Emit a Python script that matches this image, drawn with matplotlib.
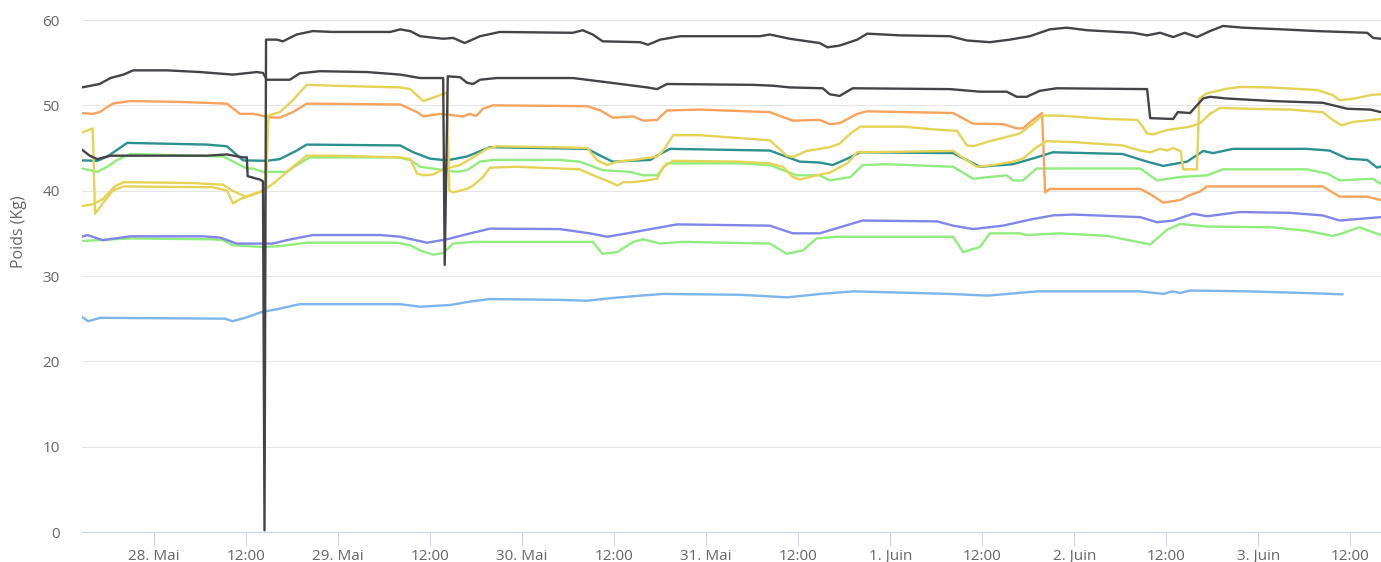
import matplotlib
matplotlib.use("Agg")
import matplotlib.pyplot as plt

plt.rcParams['font.family'] = ['Open Sans', 'DejaVu Sans']

# temps en heures depuis le 27 mai 00:00, poids en kg
bleu_h = [14.6,15.4,17.0,33.3,34.2,35.9,38.1,40.0,43.0,56.1,58.7,62.6,65.2,67.8,77.0,80.5,83.5,87.4,90.4,100.4,
          106.6,110.9,115.2,127.8,132.7,139.2,152.6,155.6,156.8,157.8,159.1,166.6,174.4,179.0]
bleu_kg = [25.2,24.7,25.1,25.0,24.7,25.1,25.8,26.1,26.7,26.7,26.4,26.6,27.0,27.3,27.2,27.1,27.4,27.7,27.9,27.8,
           27.5,27.9,28.2,27.9,27.7,28.2,28.2,27.9,28.2,28.0,28.3,28.2,28.0,27.85]

violet_h = [14.6,15.3,17.3,20.9,30.4,32.6,34.8,39.5,41.3,44.7,53.5,56.1,59.6,62.2,64.8,67.8,76.9,80.8,83.1,85.7,
            89.1,92.2,104.3,107.3,110.8,113.4,116.4,126.1,128.2,130.8,134.7,138.2,141.2,143.8,152.6,154.8,156.9,
            159.5,161.3,165.6,172.1,176.4,178.6,184.0]
violet_kg = [34.6,34.8,34.2,34.65,34.65,34.5,33.8,33.8,34.2,34.8,34.8,34.6,33.9,34.3,34.9,35.55,35.5,35.0,34.6,35.0,
             35.55,36.05,35.9,35.0,35.0,35.7,36.5,36.4,35.9,35.5,35.9,36.6,37.1,37.2,36.9,36.3,36.5,
             37.3,37.0,37.5,37.4,37.1,36.5,36.9]

vert_bas_h = [14.6,18.6,20.9,31.7,33.0,34.3,38.2,40.4,43.9,55.7,57.4,58.7,60.4,61.7,63.0,65.6,81.2,82.5,84.4,86.5,
              87.8,90.0,93.0,104.3,106.5,108.6,110.4,113.1,128.2,129.5,131.7,133.0,136.9,137.8,142.1,148.3,153.9,
              156.1,157.8,161.3,169.9,174.3,177.7,178.6,181.2,184.0]
vert_bas_kg = [34.1,34.3,34.4,34.3,34.2,33.6,33.4,33.5,33.9,33.9,33.6,33.0,32.5,32.7,33.8,34.0,34.0,32.6,32.8,34.0,
               34.3,33.8,34.0,33.8,32.6,33.0,34.4,34.6,34.6,32.8,33.4,35.0,35.0,34.8,35.0,34.7,33.7,
               35.4,36.1,35.8,35.7,35.3,34.7,34.9,35.7,34.8]

vert_haut_h = [14.6,16.6,17.9,19.2,20.9,33.0,33.9,36.1,36.9,38.2,41.3,42.6,44.3,55.7,57.4,58.7,63.5,64.8,66.5,68.2,
               76.9,79.5,82.5,86.1,87.8,89.6,90.9,100.4,104.3,107.8,110.8,112.1,114.8,116.4,119.6,128.2,130.8,
               135.2,136.0,137.3,139.1,152.6,154.8,157.8,161.3,163.4,174.3,177.0,178.6,182.9,184.0]
vert_haut_kg = [42.6,42.2,42.8,43.6,44.3,44.0,43.6,42.6,42.6,42.2,42.2,43.0,43.9,43.9,43.6,42.8,42.2,42.4,43.4,43.6,
                43.6,43.4,42.4,42.2,41.8,41.8,43.2,43.2,43.0,41.8,41.8,41.2,41.6,43.0,43.1,42.8,41.4,
                41.8,41.2,41.2,42.6,42.6,41.2,41.6,41.8,42.5,42.5,42.0,41.2,41.4,40.8]

sarcelle_h = [14.6,16.6,17.9,20.5,30.9,33.5,35.6,38.7,40.4,42.6,43.9,56.1,57.8,60.0,62.2,64.8,67.8,80.5,82.2,83.8,
              88.7,90.0,91.3,104.3,108.2,110.8,112.5,114.4,116.1,128.2,131.7,136.0,139.1,141.2,150.3,153.5,155.6,
              158.7,160.8,162.1,164.7,174.3,177.3,179.6,182.2,183.5,184.0]
sarcelle_kg = [43.55,43.5,44.0,45.6,45.4,45.2,43.55,43.5,43.7,44.7,45.4,45.3,44.5,43.75,43.55,44.0,45.1,44.9,44.1,43.4,
               43.6,44.3,44.9,44.7,43.4,43.3,43.0,43.75,44.5,44.4,42.8,43.1,43.9,44.5,44.3,43.4,42.9,
               43.4,44.65,44.4,44.9,44.9,44.7,43.75,43.6,42.7,42.85]

orange_h = [14.6,16.0,16.9,18.6,20.9,27.4,33.5,35.2,36.9,39.1,40.4,42.1,43.9,56.1,58.3,59.1,61.3,64.3,65.2,66.0,
            66.9,68.2,80.5,82.2,83.8,86.5,87.8,89.6,90.9,95.2,104.3,107.3,110.8,112.1,113.4,115.7,117.0,128.2,
            130.8,134.7,136.5,137.3,138.2,139.8,140.2,140.8,152.6,153.9,155.6,157.8,159.1,160.4,161.3,176.4,
            178.6,182.2,184.0]
orange_kg = [49.1,49.0,49.2,50.2,50.5,50.4,50.2,49.0,49.0,48.6,48.55,49.2,50.2,50.1,49.2,48.7,49.0,48.7,49.0,48.75,
             49.6,50.0,49.9,49.4,48.55,48.7,48.2,48.3,49.4,49.5,49.2,48.2,48.3,47.8,47.9,49.0,49.3,49.1,
             47.85,47.8,47.3,47.3,48.0,49.1,39.8,40.2,40.2,39.6,38.6,38.9,39.5,39.9,40.5,40.5,
             39.3,39.3,38.9]

jaune1_h = [14.6,16.0,16.3,17.3,18.6,20.0,31.7,33.5,34.3,35.2,36.9,38.2,39.8,41.7,43.9,47.3,56.1,57.4,58.3,59.1,
            60.4,61.7,63.9,65.6,67.4,68.7,75.6,80.5,81.8,83.1,84.4,86.5,89.6,90.4,91.7,95.2,104.3,106.5,107.3,
            109.1,112.1,113.4,114.8,116.1,121.7,126.1,128.7,130.0,130.8,132.6,135.2,136.9,138.6,139.8,142.1,
            148.3,152.2,152.8,153.5,154.3,156.1,159.1,160.4,161.7,163.0,166.5,172.1,176.4,177.7,178.9,180.3,184.0]
jaune1_kg = [46.8,47.3,37.3,38.5,40.0,40.5,40.4,40.0,38.5,39.0,39.5,40.0,41.0,42.5,44.1,44.1,43.9,43.7,42.0,41.8,
             41.9,42.5,43.0,43.9,44.9,45.2,45.1,45.0,43.55,43.0,43.4,43.6,44.0,44.7,46.5,46.5,45.9,44.1,43.95,
             44.65,45.1,45.5,46.7,47.5,47.5,47.15,47.0,45.3,45.2,45.7,46.3,46.7,47.85,48.8,48.8,
             48.4,48.3,47.65,46.7,46.6,47.1,47.5,47.9,49.0,49.7,49.6,49.5,49.2,48.3,47.65,48.05,48.4]

jaune2_h = [14.6,16.0,17.3,18.9,20.0,28.7,33.0,34.2,35.9,38.2,38.6,38.9,40.4,42.1,43.9,47.3,56.1,57.4,59.1,60.4,
            62.2,62.5,63.0,64.8,65.6,66.9,67.8,71.3,79.5,81.8,83.5,84.4,85.2,86.5,88.3,89.6,90.4,91.7,100.4,104.3,
            106.0,107.3,108.2,110.4,112.1,114.4,115.7,128.2,130.0,131.3,133.4,136.0,137.3,139.1,140.4,143.8,
            150.3,152.6,153.9,155.2,156.1,156.9,157.9,158.2,160.0,160.3,161.3,163.9,165.6,169.5,175.7,177.7,
            178.6,180.6,182.6,184.0]
jaune2_kg = [38.2,38.4,39.0,40.5,41.0,40.9,40.7,40.0,39.3,40.0,40.1,48.8,49.2,50.6,52.4,52.3,52.1,51.9,50.5,50.9,
             51.5,40.0,39.8,40.2,40.6,41.6,42.7,42.8,42.5,41.6,41.0,40.6,41.0,41.0,41.2,41.4,42.8,43.5,43.4,43.2,
             42.8,41.6,41.3,41.8,42.1,43.2,44.5,44.65,43.55,42.8,43.0,43.4,43.75,45.1,45.8,45.7,
             45.3,44.7,44.5,44.9,44.7,45.0,44.6,42.5,42.5,50.8,51.4,51.95,52.15,52.1,51.8,51.2,
             50.6,50.8,51.2,51.3]

noir2_h = [14.6,16.9,18.3,20.0,21.3,25.7,30.0,34.3,37.4,38.2,38.7,41.7,43.0,45.6,51.8,56.1,58.7,61.7,61.9,62.3,
           63.9,64.8,65.6,66.5,68.7,78.6,82.2,88.3,89.6,90.9,102.1,104.7,106.9,111.2,112.1,113.4,115.1,127.8,
           131.7,135.2,136.5,137.8,139.5,141.7,153.5,153.9,156.9,157.5,159.1,160.0,160.8,161.7,163.9,169.9,
           176.4,179.6,182.6,184.0]
noir2_kg = [52.1,52.5,53.2,53.6,54.1,54.1,53.9,53.6,53.9,53.8,53.0,53.0,53.75,54.0,53.9,53.6,53.2,53.2,31.3,53.4,
            53.3,52.65,52.5,53.0,53.2,53.2,52.8,52.1,51.9,52.5,52.4,52.3,52.1,52.0,51.3,51.1,52.0,51.9,
            51.6,51.6,51.0,51.0,51.7,52.0,51.9,48.5,48.4,49.2,49.1,50.0,50.8,51.0,50.8,50.5,
            50.3,49.6,49.5,49.2]

noir1_h = [14.6,15.6,16.6,18.3,30.9,33.5,35.6,36.1,36.2,37.8,38.2,38.4,38.6,40.0,40.8,42.6,44.7,47.3,54.8,56.1,
           57.4,58.7,61.7,63.0,64.5,66.5,69.1,78.6,79.9,81.2,82.5,87.4,88.4,90.0,92.6,103.0,104.3,106.9,110.8,
           111.8,113.4,115.7,117.0,121.3,127.8,130.0,133.0,135.6,138.2,140.8,143.0,145.7,151.7,153.5,155.2,
           156.9,158.4,160.0,161.7,163.4,166.0,171.2,175.7,182.2,183.0,184.0]
noir1_kg = [44.8,44.1,43.7,44.1,44.1,44.25,43.9,43.9,41.7,41.3,41.1,0.2,57.7,57.7,57.5,58.3,58.7,58.6,58.6,58.9,
            58.7,58.1,57.8,57.9,57.3,58.1,58.6,58.5,58.8,58.3,57.5,57.4,57.1,57.7,58.1,58.1,58.3,57.8,57.3,
            56.8,57.0,57.7,58.4,58.2,58.1,57.6,57.4,57.7,58.1,58.9,59.1,58.8,58.5,58.2,58.5,
            58.0,58.5,58.0,58.7,59.3,59.1,58.9,58.7,58.5,57.9,57.8]

ticks_h = [24, 36, 48, 60, 72, 84, 96, 108, 120, 132, 144, 156, 168, 180]
ticks_lbl = ["28. Mai", "12:00", "29. Mai", "12:00", "30. Mai", "12:00", "31. Mai", "12:00",
             "1. Juin", "12:00", "2. Juin", "12:00", "3. Juin", "12:00"]

series = [
    (bleu_h, bleu_kg, '#7cb5ec'),
    (vert_bas_h, vert_bas_kg, '#90ed7d'),
    (violet_h, violet_kg, '#8085e9'),
    (vert_haut_h, vert_haut_kg, '#90ed7d'),
    (sarcelle_h, sarcelle_kg, '#2b908f'),
    (orange_h, orange_kg, '#f7a35c'),
    (jaune2_h, jaune2_kg, '#e4d354'),
    (jaune1_h, jaune1_kg, '#e4d354'),
    (noir2_h, noir2_kg, '#434348'),
    (noir1_h, noir1_kg, '#434348'),
]

W, H = 1381, 562
fig = plt.figure(figsize=(W / 100, H / 100), dpi=100)
ax = fig.add_axes([82 / W, 30 / H, 1299 / W, 512 / H])

for h, kg, c in series:
    ax.plot(h, kg, color=c, lw=1.7, solid_joinstyle='round', solid_capstyle='round')

ax.set_xlim(14.6, 184.0)
ax.set_ylim(0, 60)
ax.set_yticks(range(0, 61, 10))
ax.set_xticks(ticks_h)
ax.set_xticklabels(ticks_lbl)
ax.grid(axis='y', color='#e6e6e6', lw=0.8)
ax.set_axisbelow(True)
for s in ['top', 'right', 'left']:
    ax.spines[s].set_visible(False)
ax.spines['bottom'].set_color('#ccd6eb')
ax.spines['bottom'].set_linewidth(0.8)
ax.tick_params(axis='x', length=10, width=0.8, color='#ccd6eb', labelcolor='#666666',
               labelsize=11, pad=2)
ax.tick_params(axis='y', length=0, labelcolor='#666666', labelsize=11, pad=16)
fig.text(19 / W, 1 - 232 / H, 'Poids (Kg)', rotation=90, ha='center', va='center',
         color='#666666', fontsize=11.5)

fig.savefig('out.png', dpi=100, facecolor='white')
